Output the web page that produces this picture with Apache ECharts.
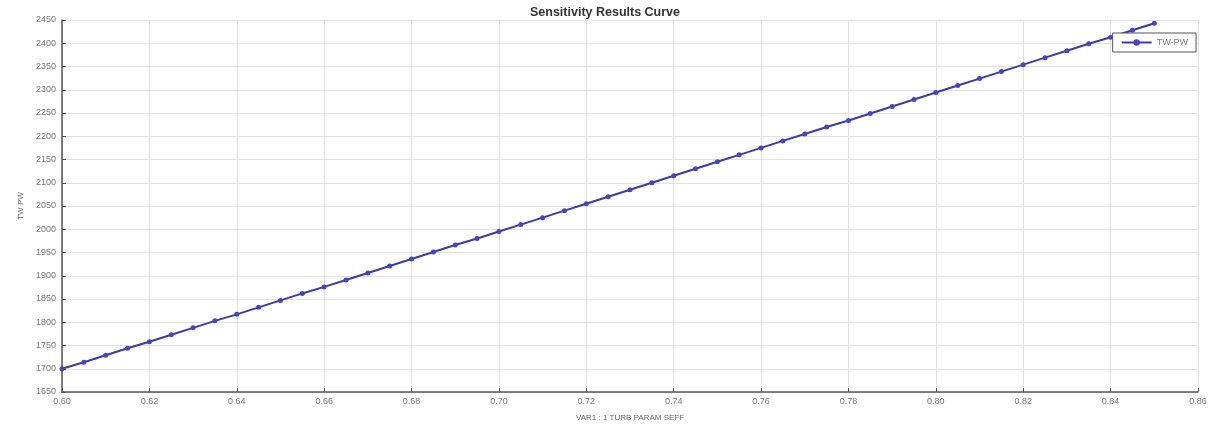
<!DOCTYPE html>
<html>
<head>
<meta charset="utf-8">
<script src="https://cdn.jsdelivr.net/npm/echarts@6/dist/echarts.min.js"></script>
<style>html,body{margin:0;padding:0;background:#fff}#c{width:1210px;height:428px}</style>
</head>
<body>
<div id="c"></div>
<script>
const xValues = [0.600,0.605,0.610,0.615,0.620,0.625,0.630,0.635,0.640,0.645,0.650,0.655,0.660,0.665,0.670,0.675,0.680,0.685,0.690,0.695,0.700,0.705,0.710,0.715,0.720,0.725,0.730,0.735,0.740,0.745,0.750,0.755,0.760,0.765,0.770,0.775,0.780,0.785,0.790,0.795,0.800,0.805,0.810,0.815,0.820,0.825,0.830,0.835,0.840,0.845,0.850];
const twPw = [1700,1714,1729,1744,1758,1773,1788,1803,1817,1832,1847,1862,1876,1891,1906,1921,1936,1951,1966,1980,1995,2010,2025,2040,2055,2070,2085,2100,2115,2130,2145,2160,2175,2190,2205,2220,2234,2249,2264,2279,2294,2309,2324,2339,2354,2369,2384,2399,2413,2428,2443];
const seriesName = 'TW-PW';
const titleText = 'Sensitivity Results Curve';
const xName = 'VAR1 : 1 TURB PARAM SEFF';
const yName = 'TW PW';

const chart = echarts.init(document.getElementById('c'));
chart.setOption({
  animation: false,
  title: { text: titleText, left: 'center', top: 1, textStyle: { fontSize: 12.5, fontWeight: 'bold', color: '#333', fontFamily: 'Liberation Sans' } },
  legend: {
    data: [seriesName], right: 14, top: 33, orient: 'vertical',
    backgroundColor: '#fff', borderColor: '#555', borderWidth: 1, borderRadius: 0, padding: [5, 8, 5, 8],
    itemWidth: 30, itemHeight: 8,
    textStyle: { fontSize: 9, color: '#7a7a99', fontFamily: 'Liberation Sans' }
  },
  grid: { left: 62, right: 12, top: 20, bottom: 36, containLabel: false },
  xAxis: {
    type: 'value', min: 0.6, max: 0.86, interval: 0.02,
    name: xName, nameLocation: 'middle', nameGap: 22,
    nameTextStyle: { fontSize: 8, color: '#666', fontFamily: 'Liberation Sans' },
    axisLine: { lineStyle: { color: '#555', width: 1.5 } },
    axisTick: { inside: true, length: 4, lineStyle: { color: '#555' } },
    axisLabel: { fontSize: 9, color: '#777', margin: 5, formatter: v => v.toFixed(2), fontFamily: 'Liberation Sans' },
    splitLine: { show: true, lineStyle: { color: '#e2e2e2' } }
  },
  yAxis: {
    type: 'value', min: 1650, max: 2450, interval: 50,
    name: yName, nameLocation: 'middle', nameGap: 35, nameRotate: 90,
    nameTextStyle: { fontSize: 8, color: '#666', fontFamily: 'Liberation Sans' },
    axisLine: { show: true, lineStyle: { color: '#555', width: 1.5 } },
    axisTick: { show: true, inside: true, length: 4, lineStyle: { color: '#555' } },
    axisLabel: { fontSize: 9, color: '#777', margin: 6, formatter: v => String(v), fontFamily: 'Liberation Sans' },
    splitLine: { show: true, lineStyle: { color: '#e2e2e2' } }
  },
  series: [{
    name: seriesName, type: 'line',
    data: xValues.map((x, i) => [x, twPw[i]]),
    symbol: 'circle', symbolSize: 5,
    lineStyle: { color: '#3b3ba6', width: 2 },
    itemStyle: { color: '#4444c4' }
  }]
});
</script>
</body>
</html>
